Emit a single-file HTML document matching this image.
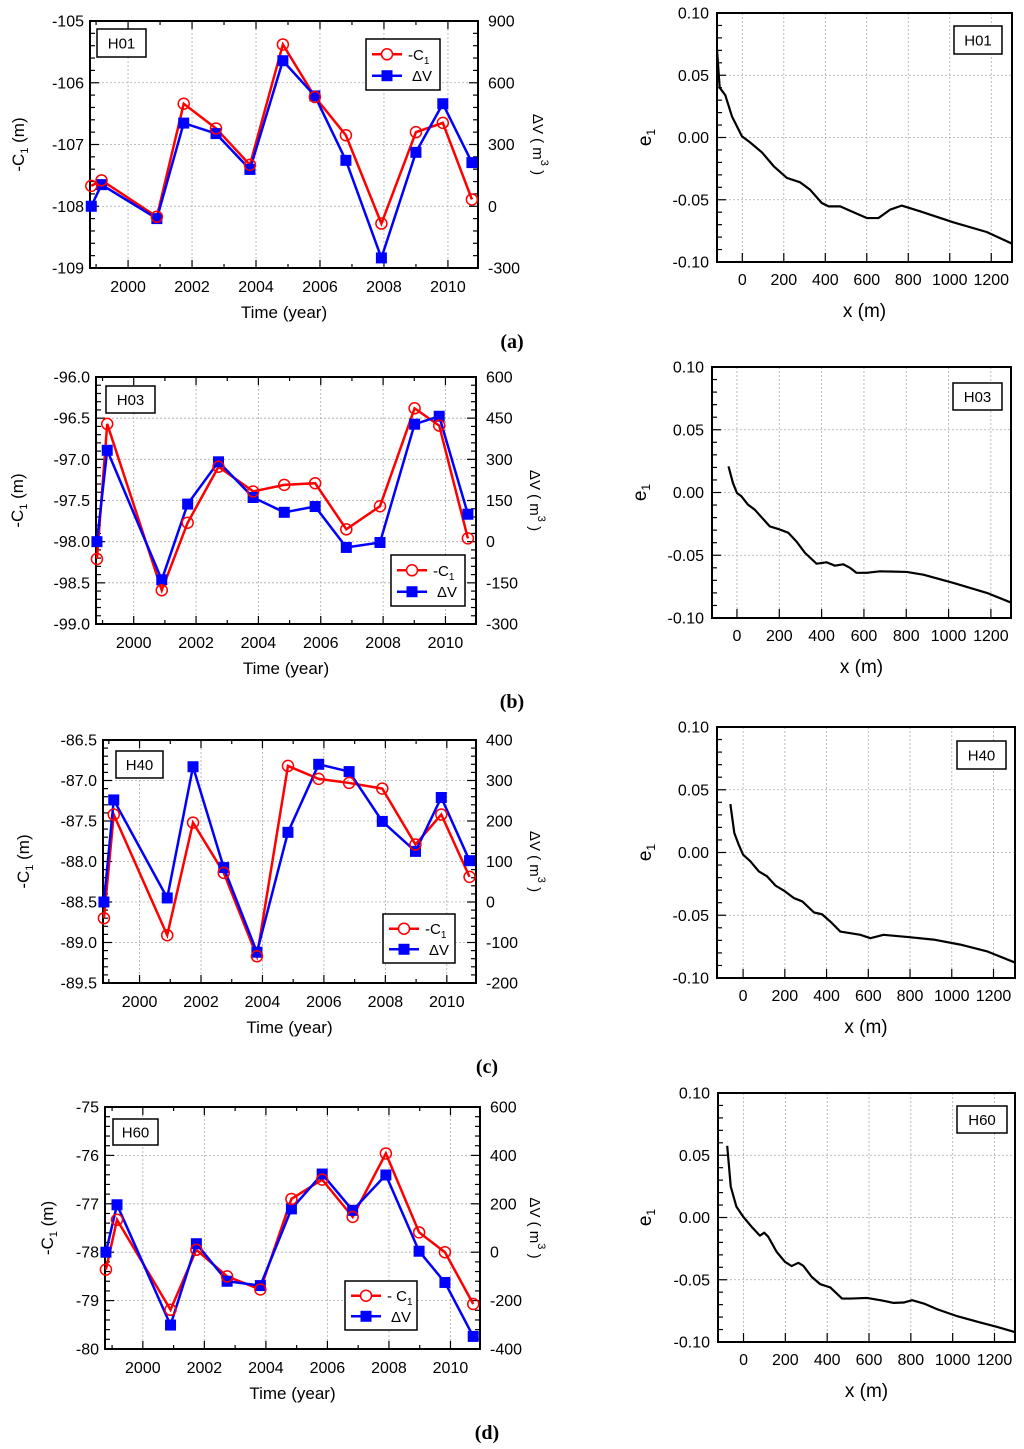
<!DOCTYPE html>
<html><head><meta charset="utf-8">
<style>
html,body{margin:0;padding:0;background:#fff;}
svg{display:block;font-family:"Liberation Sans",Arial,sans-serif;}
</style></head>
<body>
<svg id="fig" width="1024" height="1449" viewBox="0 0 1024 1449" xmlns="http://www.w3.org/2000/svg"></svg>
<script>
// ---------- data ----------
const yearsA = [1998.85,1999.17,2000.9,2001.74,2002.75,2003.81,2004.84,2005.84,2006.81,2007.92,2009.0,2009.84,2010.75];
const yearsB = [1998.82,1999.15,2000.9,2001.73,2002.72,2003.83,2004.83,2005.82,2006.82,2007.9,2009.01,2009.8,2010.72];
const yearsC = [1998.84,1999.16,2000.9,2001.74,2002.74,2003.82,2004.83,2005.83,2006.82,2007.9,2008.98,2009.82,2010.74];
const yearsD = [1998.8,1999.16,2000.9,2001.74,2002.74,2003.82,2004.83,2005.83,2006.82,2007.9,2008.98,2009.82,2010.74];
const c1A = [-107.67,-107.58,-108.17,-106.34,-106.74,-107.33,-105.38,-106.23,-106.85,-108.28,-106.8,-106.65,-107.89];
const dvA = [0,105,-60,404,353,179,707,536,223,-251,262,498,212];
const c1B = [-98.21,-96.57,-98.59,-97.77,-97.09,-97.39,-97.31,-97.29,-97.85,-97.57,-96.38,-96.59,-97.96];
const dvB = [0,333,-139,137,291,161,107,128,-21,-3,428,457,100];
const c1C = [-88.70,-87.42,-88.91,-87.52,-88.14,-89.17,-86.82,-86.98,-87.03,-87.10,-87.79,-87.42,-88.19];
const dvC = [0,252,10,334,85,-124,172,340,322,199,125,258,102];
const c1D = [-78.36,-77.33,-79.19,-77.95,-78.50,-78.77,-76.90,-76.50,-77.27,-75.96,-77.59,-78.00,-79.07];
const dvD = [0,196,-301,35,-120,-138,179,323,173,319,4,-125,-348];

const exA = [-122,-109,-82,-50,-2,38,95,151,215,279,327,383,416,472,536,600,656,712,768,857,1017,1178,1301];
const eyA = [0.0705,0.040,0.034,0.017,0.001,-0.004,-0.012,-0.023,-0.0325,-0.036,-0.042,-0.0526,-0.0553,-0.0553,-0.060,-0.0647,-0.0647,-0.058,-0.0547,-0.0593,-0.0681,-0.0759,-0.0853];
const exB = [-40,-19,0,21,52,84,155,194,242,281,321,376,423,463,502,534,565,613,676,802,881,1023,1181,1292];
const eyB = [0.0208,0.0075,-0.0004,-0.003,-0.0097,-0.0137,-0.027,-0.029,-0.032,-0.039,-0.048,-0.0567,-0.0556,-0.0583,-0.0572,-0.060,-0.064,-0.064,-0.0628,-0.0633,-0.0655,-0.0721,-0.080,-0.0875];
const exC = [-61,-42,-21,0,35,75,115,155,195,243,284,340,378,418,466,514,562,610,673,785,913,1041,1168,1300];
const eyC = [0.0386,0.0155,0.0062,-0.0017,-0.007,-0.015,-0.019,-0.0263,-0.0303,-0.0363,-0.039,-0.0478,-0.0492,-0.055,-0.063,-0.0643,-0.0656,-0.0683,-0.0656,-0.0673,-0.0694,-0.0734,-0.0787,-0.0875];
const exD = [-78,-61,-34,-2,38,78,99,118,158,198,230,262,286,326,367,415,471,511,590,654,718,766,806,862,926,1022,1133,1213,1297];
const eyD = [0.0576,0.0248,0.0087,0.0007,-0.0073,-0.0146,-0.0122,-0.0154,-0.0275,-0.0356,-0.039,-0.0364,-0.0388,-0.0477,-0.0536,-0.0562,-0.0651,-0.0651,-0.0646,-0.0664,-0.0686,-0.0683,-0.0664,-0.0691,-0.0737,-0.0793,-0.0844,-0.0879,-0.092];

const yearTicks = [2000,2002,2004,2006,2008,2010];
const xmTicks = [0,200,400,600,800,1000,1200];
const eTicks = [0.10,0.05,0.00,-0.05,-0.10];

// ---------- helpers ----------
const NS="http://www.w3.org/2000/svg";
const svg=document.getElementById('fig');
function mk(tag,attrs,parent,text){
  const e=document.createElementNS(NS,tag);
  for(const k in attrs)e.setAttribute(k,attrs[k]);
  if(text!==undefined)e.textContent=text;
  (parent||svg).appendChild(e);return e;
}
function lin(d0,d1,r0,r1){return v=>r0+(v-d0)*(r1-r0)/(d1-d0);}

function timePanel(cfg){
  const g=mk('g',{});
  
  
  const [L,T,R,B]=cfg.box;
  const sx=lin(cfg.xd[0],cfg.xd[1],L,R);
  const sl=lin(cfg.ld[0],cfg.ld[1],B,T);
  const sr=lin(cfg.rd[0],cfg.rd[1],B,T);
  yearTicks.forEach(y=>{const gl=mk('line',{x1:sx(y),x2:sx(y),y1:T,y2:B,stroke:'#aaa','stroke-width':0.8,'stroke-dasharray':'2,2'},g);
    });
  for(let v=cfg.ld[0]+cfg.lstep;v<cfg.ld[1]-1e-9;v+=cfg.lstep){
    const gl=mk('line',{x1:L,x2:R,y1:sl(v),y2:sl(v),stroke:'#aaa','stroke-width':0.8,'stroke-dasharray':'2,2'},g);
    }
  for(let y=1999;y<=2010;y++){
    const len=(y%2==0)?8:4;
    mk('line',{x1:sx(y),x2:sx(y),y1:B,y2:B-len,stroke:'#000','stroke-width':1.2},g);
    mk('line',{x1:sx(y),x2:sx(y),y1:T,y2:T+len,stroke:'#000','stroke-width':1.2},g);
  }
  const nL=Math.round((cfg.ld[1]-cfg.ld[0])/cfg.lstep);
  for(let i=0;i<=nL*5;i++){
    const v=cfg.ld[0]+i*cfg.lstep/5;const len=(i%5==0)?9:5;
    mk('line',{x1:L,x2:L+len,y1:sl(v),y2:sl(v),stroke:'#000','stroke-width':1.2},g);
  }
  const nR=Math.round((cfg.rd[1]-cfg.rd[0])/cfg.rstep);
  for(let i=0;i<=nR*5;i++){
    const v=cfg.rd[0]+i*cfg.rstep/5;const len=(i%5==0)?9:5;
    mk('line',{x1:R,x2:R-len,y1:sr(v),y2:sr(v),stroke:'#000','stroke-width':1.2},g);
  }
  for(let i=0;i<=nL;i++){
    const v=cfg.ld[0]+i*cfg.lstep;
    const t=mk('text',{x:L-6,y:sl(v)+5.5,'text-anchor':'end','font-size':16},g,cfg.ldec?v.toFixed(1):String(Math.round(v)));
    
  }
  for(let i=0;i<=nR;i++){
    const v=cfg.rd[0]+i*cfg.rstep;
    const t=mk('text',{x:R+10,y:sr(v)+5.5,'text-anchor':'start','font-size':16},g,String(v));
    
  }
  yearTicks.forEach(y=>{const t=mk('text',{x:sx(y),y:B+24,'text-anchor':'middle','font-size':16},g,String(y));
    });
  const fr=mk('rect',{x:L,y:T,width:R-L,height:B-T,fill:'none',stroke:'#000','stroke-width':2},g);
  
  const years=cfg.years;
  const rp=years.map((y,i)=>sx(y)+','+sl(cfg.c1[i])).join(' ');
  const bp=years.map((y,i)=>sx(y)+','+sr(cfg.dv[i])).join(' ');
  const rl=mk('polyline',{points:rp,fill:'none',stroke:'#f00','stroke-width':2.5},g);
  
  const bl=mk('polyline',{points:bp,fill:'none',stroke:'#00f','stroke-width':2.5},g);
  
  years.forEach((y,i)=>{
    const s=mk('rect',{x:sx(y)-5.5,y:sr(cfg.dv[i])-5.5,width:11,height:11,fill:'#00f'},g);
    
  });
  years.forEach((y,i)=>{
    const c=mk('circle',{cx:sx(y),cy:sl(cfg.c1[i]),r:5.5,fill:'none',stroke:'#f00','stroke-width':1.5},g);
    
  });
  const [hx0,hy0,hx1,hy1]=cfg.hbox;
  const hb=mk('g',{},g);
  mk('rect',{x:hx0,y:hy0,width:hx1-hx0,height:hy1-hy0,fill:'#fff',stroke:'#000','stroke-width':1.5},hb);
  mk('text',{x:(hx0+hx1)/2,y:(hy0+hy1)/2+5.5,'text-anchor':'middle','font-size':15},hb,cfg.id);
  const [lx0,ly0,lx1,ly1]=cfg.legend;
  const lg=mk('g',{},g);
  mk('rect',{x:lx0,y:ly0,width:lx1-lx0,height:ly1-ly0,fill:'#fff',stroke:'#000','stroke-width':1.5},lg);
  const r1=ly0+(ly1-ly0)*0.3,r2=ly0+(ly1-ly0)*0.72;
  const e1=mk('g',{},lg);
  mk('line',{x1:lx0+6,x2:lx0+36,y1:r1,y2:r1,stroke:'#f00','stroke-width':2.5},e1);
  mk('circle',{cx:lx0+21,cy:r1,r:5.5,fill:'#fff',stroke:'#f00','stroke-width':1.5},e1);
  const t1=mk('text',{x:lx0+42,y:r1+5.5,'font-size':15},e1,cfg.c1label);
  mk('tspan',{'font-size':10,dy:4},t1,'1');
  const e2=mk('g',{},lg);
  mk('line',{x1:lx0+6,x2:lx0+36,y1:r2,y2:r2,stroke:'#00f','stroke-width':2.5},e2);
  mk('rect',{x:lx0+15.5,y:r2-5.5,width:11,height:11,fill:'#00f'},e2);
  mk('text',{x:lx0+46,y:r2+5.5,'font-size':15},e2,'ΔV');
  const cy=(T+B)/2;
  const yt=mk('text',{x:cfg.ltx,y:cy,'text-anchor':'middle','font-size':17,transform:`rotate(-90 ${cfg.ltx} ${cy})`,dy:6},g,'-C');
  mk('tspan',{'font-size':11,dy:4},yt,'1');mk('tspan',{dy:-4},yt,' (m)');
  
  const rt=mk('text',{x:cfg.rtx,y:cy,'text-anchor':'middle','font-size':15,transform:`rotate(90 ${cfg.rtx} ${cy})`,dy:5},g,'ΔV ( m');
  mk('tspan',{'font-size':11,dy:-8},rt,'3');mk('tspan',{dy:8},rt,' )');
  
  const xt=mk('text',{x:(L+R)/2,y:B+50,'text-anchor':'middle','font-size':17},g,'Time (year)');
  
}

function profPanel(cfg){
  const g=mk('g',{});
  
  
  const [L,T,R,B]=cfg.box;
  const sx=lin(cfg.xd[0],cfg.xd[1],L,R);
  const sy=lin(-0.1,0.1,B,T);
  xmTicks.forEach(v=>{const gl=mk('line',{x1:sx(v),x2:sx(v),y1:T,y2:B,stroke:'#aaa','stroke-width':0.8,'stroke-dasharray':'2,2'},g);
    
    mk('line',{x1:sx(v),x2:sx(v),y1:B,y2:B-9,stroke:'#000','stroke-width':1.2},g);
    const t=mk('text',{x:sx(v),y:B+23,'text-anchor':'middle','font-size':16},g,String(v));
    });
  [0.05,0,-0.05].forEach(v=>{const gl=mk('line',{x1:L,x2:R,y1:sy(v),y2:sy(v),stroke:'#aaa','stroke-width':0.8,'stroke-dasharray':'2,2'},g);
    });
  for(let i=0;i<=20;i++){const v=-0.1+i*0.01;const len=(i%5==0)?9:5;
    mk('line',{x1:L,x2:L+len,y1:sy(v),y2:sy(v),stroke:'#000','stroke-width':1.2},g);}
  eTicks.forEach(v=>{const t=mk('text',{x:L-8,y:sy(v)+5.5,'text-anchor':'end','font-size':16},g,v.toFixed(2).replace('-0.00','0.00'));
    });
  const fr=mk('rect',{x:L,y:T,width:R-L,height:B-T,fill:'none',stroke:'#000','stroke-width':2},g);
  
  const pts=cfg.ex.map((x,i)=>sx(x)+','+sy(cfg.ey[i])).join(' ');
  const pl=mk('polyline',{points:pts,fill:'none',stroke:'#000','stroke-width':2.2,'stroke-linejoin':'round'},g);
  
  const [hx0,hy0,hx1,hy1]=cfg.hbox;
  const hb=mk('g',{},g);
  mk('rect',{x:hx0,y:hy0,width:hx1-hx0,height:hy1-hy0,fill:'#fff',stroke:'#000','stroke-width':1.5},hb);
  mk('text',{x:(hx0+hx1)/2,y:(hy0+hy1)/2+5.5,'text-anchor':'middle','font-size':15},hb,cfg.id);
  const cy=(T+B)/2;
  const yt=mk('text',{x:cfg.ltx,y:cy,'text-anchor':'middle','font-size':19,transform:`rotate(-90 ${cfg.ltx} ${cy})`,dy:6},g,'e');
  mk('tspan',{'font-size':12,dy:4},yt,'1');
  
  const xt=mk('text',{x:(L+R)/2,y:B+55,'text-anchor':'middle','font-size':19},g,'x (m)');
  
}

timePanel({name:'panel-a-timeseries',box:[90,21,478,268],xd:[1998.81,2010.94],ld:[-109,-105],lstep:1,ldec:false,rd:[-300,900],rstep:300,
  years:yearsA,c1:c1A,dv:dvA,id:'H01',hbox:[97,29,146,57],legend:[366,39,440,90],c1label:'-C',ltx:18,rtx:538});
timePanel({name:'panel-b-timeseries',box:[96,377,476,624],xd:[1998.79,2010.98],ld:[-99,-96],lstep:0.5,ldec:true,rd:[-300,600],rstep:150,
  years:yearsB,c1:c1B,dv:dvB,id:'H03',hbox:[106,386,155,413],legend:[391,555,465,606],c1label:'-C',ltx:17,rtx:535});
timePanel({name:'panel-c-timeseries',box:[103,740,476,983],xd:[1998.81,2010.95],ld:[-89.5,-86.5],lstep:0.5,ldec:true,rd:[-200,400],rstep:100,
  years:yearsC,c1:c1C,dv:dvC,id:'H40',hbox:[116,751,163,778],legend:[383,914,455,963],c1label:'-C',ltx:23,rtx:535});
timePanel({name:'panel-d-timeseries',box:[105,1107,480,1349],xd:[1998.77,2010.96],ld:[-80,-75],lstep:1,ldec:false,rd:[-400,600],rstep:200,
  years:yearsD,c1:c1D,dv:dvD,id:'H60',hbox:[113,1119,158,1145],legend:[345,1281,417,1330],c1label:'- C',ltx:47,rtx:535});

profPanel({name:'panel-a-profile',box:[717,13,1012,262],xd:[-122,1300],ex:exA,ey:eyA,id:'H01',hbox:[954,26,1002,54],ltx:645});
profPanel({name:'panel-b-profile',box:[712,367,1011,618],xd:[-118,1295],ex:exB,ey:eyB,id:'H03',hbox:[953,383,1002,410],ltx:640});
profPanel({name:'panel-c-profile',box:[717,727,1015,978],xd:[-125,1303],ex:exC,ey:eyC,id:'H40',hbox:[957,741,1006,769],ltx:645});
profPanel({name:'panel-d-profile',box:[718,1093,1015,1342],xd:[-122,1298],ex:exD,ey:eyD,id:'H60',hbox:[957,1106,1007,1133],ltx:645});

[['(a)',512,348],['(b)',512,708],['(c)',487,1073],['(d)',487,1439]].forEach(p=>{
  const t=mk('text',{x:p[1],y:p[2],'text-anchor':'middle','font-size':20,'font-weight':'bold','font-family':'"Liberation Serif",serif'},svg,p[0]);
  
  
});
</script>
</body></html>
